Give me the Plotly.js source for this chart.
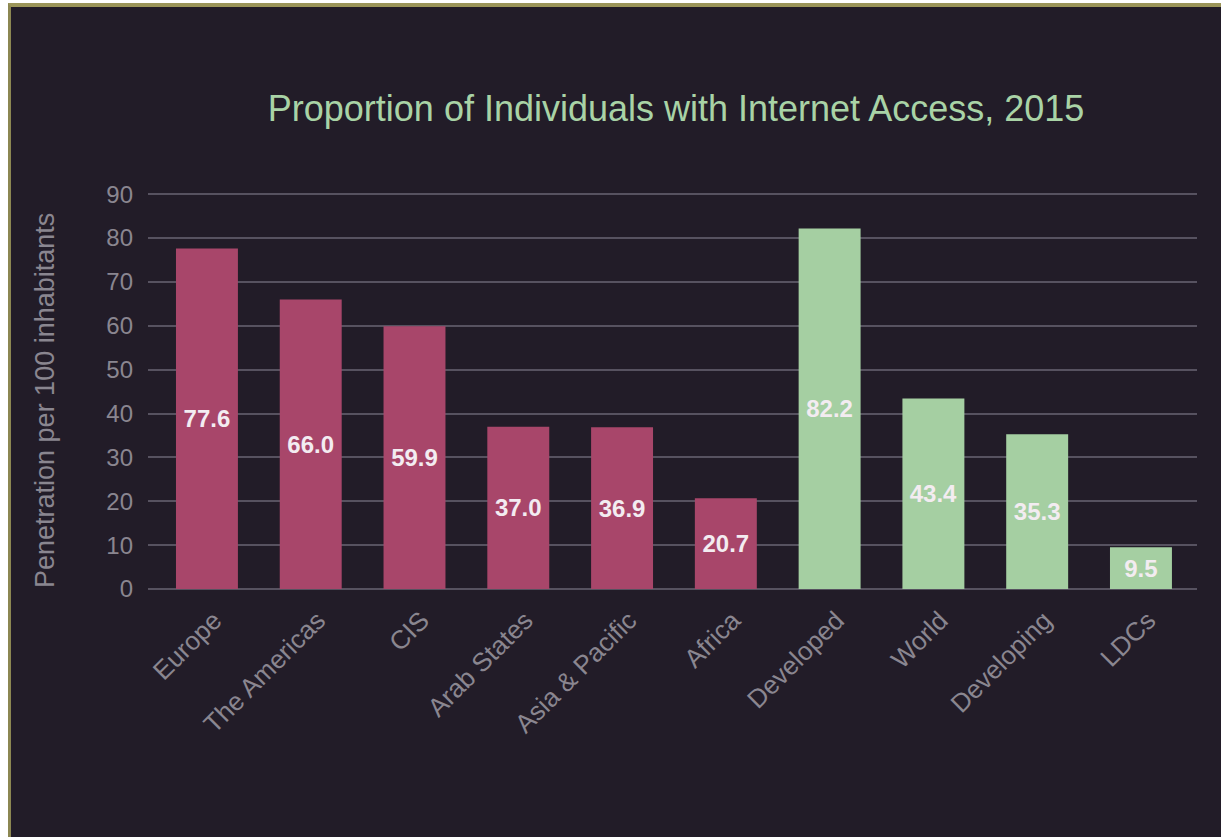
<!DOCTYPE html>
<html>
<head>
<meta charset="utf-8">
<script src="https://cdn.plot.ly/plotly-3.0.1.min.js"></script>
<style>
  html, body { margin: 0; padding: 0; background: #ffffff; width: 1221px; height: 837px; overflow: hidden; }
  #frame { position: absolute; left: 8px; top: 3px; width: 1213px; height: 834px;
           border-top: 4px solid #9b9559; border-left: 3px solid #8c8752; background: #221c28; }
  #chart { width: 1210px; height: 830px; }
</style>
</head>
<body>
<div id="frame"><div id="chart"></div></div>
<script>
const regionNames = ["Europe", "The Americas", "CIS", "Arab States", "Asia & Pacific", "Africa"];
const regionValues = [77.6, 66.0, 59.9, 37.0, 36.9, 20.7];
const devGroupNames = ["Developed", "World", "Developing", "LDCs"];
const devGroupValues = [82.2, 43.4, 35.3, 9.5];
const yTickValues = [0, 10, 20, 30, 40, 50, 60, 70, 80, 90];

const FONT = "Liberation Sans, Arial, Helvetica, sans-serif";
const textFont = { family: FONT, size: 24, color: "#f3ecf1", weight: "bold" };
const axisColor = "#8a8690";

const traces = [
  {
    type: "bar", x: regionNames, y: regionValues,
    marker: { color: "#a8466a" },
    texttemplate: "%{y:.1f}", textposition: "inside", insidetextanchor: "middle",
    textangle: 0, textfont: textFont, hoverinfo: "x+y"
  },
  {
    type: "bar", x: devGroupNames, y: devGroupValues,
    marker: { color: "#a5cfa2" },
    texttemplate: "%{y:.1f}", textposition: "inside", insidetextanchor: "middle",
    textangle: 0, textfont: textFont, hoverinfo: "x+y"
  }
];

const layout = {
  width: 1210, height: 830,
  paper_bgcolor: "#221c28", plot_bgcolor: "#221c28",
  margin: { l: 137, r: 24, t: 185, b: 248 },
  barmode: "overlay", bargap: 0.403, showlegend: false,
  font: { family: FONT, color: axisColor },
  title: {
    text: "Proportion of Individuals with Internet Access, 2015",
    font: { family: FONT, size: 36, color: "#a9d3a6" },
    x: 0.5496, xanchor: "center", y: 0.8783, yanchor: "middle"
  },
  xaxis: {
    categoryorder: "array", categoryarray: regionNames.concat(devGroupNames),
    range: [-0.568, 9.54],
    tickangle: -45, tickfont: { family: FONT, size: 26, color: axisColor },
    ticklabelstandoff: 10, ticklabelshift: 7,
    showgrid: false, showline: false, zeroline: false, ticks: ""
  },
  yaxis: {
    range: [0, 90.5], tickvals: yTickValues, ticktext: yTickValues.map(String),
    tickfont: { family: FONT, size: 24, color: axisColor },
    gridcolor: "#575260", gridwidth: 2, zeroline: true, zerolinecolor: "#575260", zerolinewidth: 2,
    showline: false, ticks: "", ticklabelstandoff: 14
  },
  annotations: [
    {
      text: "Penetration per 100 inhabitants", textangle: -90,
      xref: "paper", yref: "paper", x: (45 - 11 - 137) / (1210 - 137 - 24), y: (837 - 401 - 248) / (830 - 185 - 248),
      xanchor: "center", yanchor: "middle", showarrow: false,
      font: { family: FONT, size: 27, color: axisColor }
    }
  ]
};

Plotly.newPlot("chart", traces, layout, { displayModeBar: false, staticPlot: true });
</script>
</body>
</html>
